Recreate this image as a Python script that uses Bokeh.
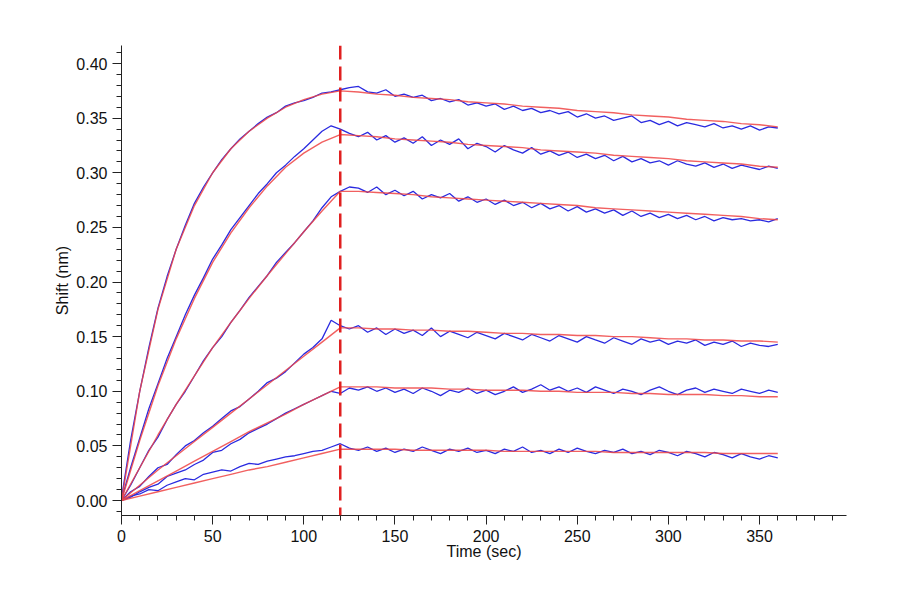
from bokeh.plotting import figure
from bokeh.models import Range1d, SingleIntervalTicker, Span, PrintfTickFormatter
from bokeh.embed import file_html
from bokeh.resources import INLINE

fit_assoc = [
    [0,0.100,0.175,0.230,0.270,0.300,0.322,0.338,0.350,0.360,0.367,0.372,0.375],
    [0,0.055,0.105,0.148,0.185,0.218,0.245,0.268,0.288,0.305,0.318,0.328,0.335],
    [0,0.030,0.060,0.088,0.114,0.140,0.163,0.185,0.206,0.226,0.246,0.265,0.283],
    [0,0.014,0.028,0.041,0.054,0.067,0.080,0.093,0.106,0.119,0.132,0.145,0.158],
    [0,0.009,0.018,0.027,0.036,0.045,0.054,0.063,0.071,0.079,0.088,0.096,0.104],
    [0,0.004,0.008,0.012,0.016,0.020,0.024,0.028,0.031,0.035,0.039,0.043,0.047],
]
fit_dissoc = [
    [0.374,0.372,0.371,0.369,0.368,0.367,0.365,0.364,0.363,0.361,0.360,0.359,0.357,0.356,0.355,0.353,0.352,0.351,0.349,0.348,0.347,0.345,0.344,0.342],
    [0.334,0.333,0.331,0.330,0.329,0.328,0.326,0.325,0.324,0.323,0.321,0.320,0.319,0.318,0.316,0.315,0.314,0.313,0.311,0.310,0.309,0.308,0.306,0.305],
    [0.283,0.282,0.281,0.280,0.278,0.277,0.276,0.275,0.274,0.273,0.272,0.271,0.270,0.268,0.267,0.266,0.265,0.264,0.263,0.262,0.261,0.260,0.258,0.257],
    [0.158,0.157,0.157,0.156,0.156,0.155,0.155,0.154,0.153,0.153,0.152,0.152,0.151,0.151,0.150,0.150,0.149,0.148,0.148,0.147,0.147,0.146,0.146,0.145],
    [0.104,0.104,0.103,0.103,0.103,0.102,0.102,0.101,0.101,0.101,0.100,0.100,0.099,0.099,0.099,0.098,0.098,0.097,0.097,0.097,0.096,0.096,0.095,0.095],
    [0.047,0.047,0.047,0.046,0.046,0.046,0.046,0.046,0.045,0.045,0.045,0.045,0.045,0.045,0.044,0.044,0.044,0.044,0.044,0.044,0.043,0.043,0.043,0.043],
]
measured = [
    [0.002,0.055,0.100,0.140,0.176,0.205,0.230,0.252,0.272,0.287,0.300,0.312,0.322,0.331,0.338,0.345,0.351,0.355,0.361,0.364,0.366,0.369,0.373,0.374,0.376,0.378,0.379,0.374,0.373,0.376,0.370,0.372,0.369,0.371,0.366,0.368,0.365,0.367,0.362,0.364,0.361,0.363,0.358,0.361,0.357,0.359,0.355,0.357,0.354,0.356,0.351,0.354,0.350,0.352,0.348,0.350,0.352,0.346,0.348,0.344,0.347,0.343,0.346,0.344,0.342,0.345,0.341,0.343,0.340,0.343,0.339,0.342,0.341],
    [0.001,0.030,0.057,0.084,0.107,0.130,0.150,0.170,0.188,0.204,0.221,0.234,0.248,0.259,0.270,0.281,0.290,0.300,0.307,0.315,0.322,0.330,0.338,0.343,0.340,0.336,0.333,0.337,0.330,0.334,0.328,0.332,0.327,0.333,0.325,0.330,0.326,0.331,0.322,0.327,0.324,0.319,0.325,0.321,0.318,0.323,0.317,0.320,0.316,0.319,0.314,0.317,0.313,0.316,0.311,0.315,0.310,0.313,0.309,0.311,0.307,0.311,0.308,0.306,0.309,0.305,0.308,0.304,0.307,0.305,0.303,0.306,0.304],
    [0.000,0.014,0.030,0.046,0.058,0.074,0.088,0.100,0.114,0.128,0.140,0.150,0.163,0.174,0.186,0.196,0.206,0.218,0.227,0.236,0.246,0.256,0.268,0.278,0.283,0.287,0.286,0.282,0.287,0.280,0.284,0.279,0.283,0.276,0.280,0.277,0.281,0.274,0.278,0.273,0.276,0.271,0.275,0.270,0.273,0.268,0.272,0.267,0.270,0.265,0.269,0.264,0.267,0.263,0.266,0.261,0.265,0.260,0.263,0.259,0.262,0.258,0.261,0.257,0.260,0.256,0.259,0.257,0.258,0.256,0.257,0.255,0.258],
    [0.000,0.008,0.013,0.022,0.030,0.033,0.042,0.050,0.055,0.062,0.068,0.075,0.082,0.086,0.093,0.100,0.108,0.112,0.118,0.126,0.134,0.140,0.148,0.165,0.160,0.157,0.160,0.154,0.158,0.152,0.157,0.153,0.156,0.151,0.158,0.150,0.155,0.152,0.149,0.154,0.151,0.148,0.153,0.150,0.147,0.152,0.149,0.146,0.151,0.148,0.145,0.150,0.147,0.144,0.149,0.146,0.143,0.148,0.145,0.147,0.143,0.146,0.144,0.147,0.142,0.145,0.143,0.146,0.141,0.144,0.142,0.141,0.143],
    [0.000,0.003,0.008,0.012,0.015,0.022,0.025,0.028,0.033,0.037,0.044,0.046,0.052,0.056,0.062,0.066,0.070,0.075,0.080,0.084,0.088,0.092,0.096,0.100,0.098,0.103,0.101,0.104,0.100,0.103,0.099,0.102,0.098,0.103,0.100,0.096,0.101,0.099,0.103,0.098,0.101,0.097,0.100,0.104,0.099,0.102,0.106,0.101,0.104,0.100,0.103,0.099,0.104,0.101,0.098,0.102,0.100,0.097,0.101,0.104,0.100,0.097,0.101,0.103,0.099,0.102,0.100,0.098,0.102,0.100,0.098,0.101,0.099],
    [0.000,0.004,0.006,0.010,0.009,0.014,0.017,0.020,0.019,0.024,0.026,0.028,0.027,0.031,0.034,0.033,0.036,0.038,0.040,0.041,0.043,0.045,0.046,0.049,0.052,0.048,0.046,0.049,0.045,0.048,0.044,0.047,0.045,0.049,0.046,0.043,0.047,0.045,0.048,0.044,0.046,0.043,0.047,0.045,0.049,0.044,0.046,0.043,0.047,0.044,0.048,0.045,0.043,0.046,0.044,0.047,0.043,0.045,0.042,0.046,0.044,0.041,0.045,0.043,0.040,0.044,0.042,0.039,0.043,0.040,0.038,0.041,0.039],
]
meas_step = 5
fit_step = 10
switch_time = 120

p = figure(width=884, height=584, output_backend="svg", toolbar_location=None,
           x_range=Range1d(0, 397.7), y_range=Range1d(-0.0137, 0.4165),
           min_border_left=121, min_border_right=38, min_border_top=45, min_border_bottom=69,
           x_axis_label="Time (sec)", y_axis_label="Shift (nm)")
p.grid.visible = False
p.outline_line_color = None
p.background_fill_color = "white"

for b in measured:
    p.line([meas_step * i for i in range(len(b))], b, line_color="#2a2ae0", line_width=1.3)
for a, d in zip(fit_assoc, fit_dissoc):
    xs = [fit_step * i for i in range(len(a))] + [switch_time + fit_step * (i + 1) for i in range(len(d))]
    p.line(xs, a + d, line_color="#ee4444", line_width=1.4, line_alpha=0.85)

p.add_layout(Span(location=switch_time, dimension="height", line_color="#e02020",
                  line_width=2.5, line_dash="14 7"))

for ax in (p.xaxis[0], p.yaxis[0]):
    ax.axis_line_color = "#222222"
    ax.major_tick_line_color = "#222222"
    ax.minor_tick_line_color = "#222222"
    ax.major_tick_in = 0
    ax.minor_tick_in = 0
    ax.major_tick_out = 9
    ax.minor_tick_out = 5
    ax.major_label_text_font = "Liberation Sans"
    ax.major_label_text_font_size = "16px"
    ax.major_label_text_color = "#111111"
    ax.axis_label_text_font = "Liberation Sans"
    ax.axis_label_text_font_size = "16px"
    ax.axis_label_text_color = "#111111"
    ax.axis_label_text_font_style = "normal"
p.xaxis.ticker = SingleIntervalTicker(interval=50, num_minor_ticks=5)
p.yaxis.ticker = SingleIntervalTicker(interval=0.05, num_minor_ticks=5)
p.yaxis.formatter = PrintfTickFormatter(format="%.2f")
p.xaxis.axis_label_standoff = -2
p.yaxis.axis_label_standoff = 2

open("out.html", "w").write(file_html(p, INLINE))
